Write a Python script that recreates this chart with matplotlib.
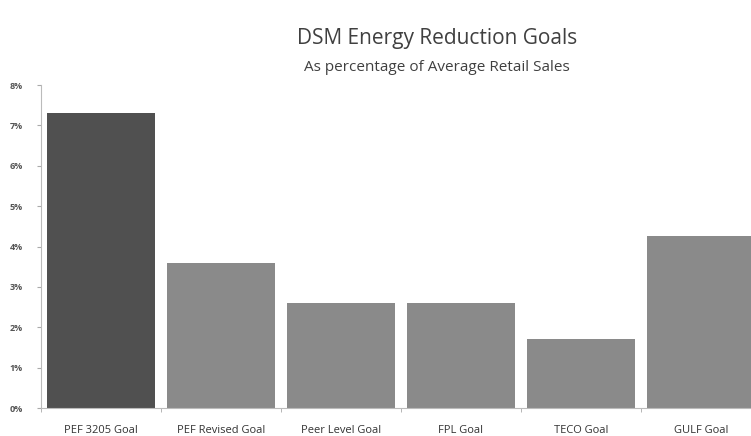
import matplotlib.pyplot as plt
from matplotlib.ticker import FixedLocator

plt.rcParams['font.family'] = ['Open Sans', 'DejaVu Sans']

goals = ["PEF 3205 Goal", "PEF Revised Goal", "Peer Level Goal",
         "FPL Goal", "TECO Goal", "GULF Goal"]
pct = [7.3, 3.6, 2.6, 2.6, 1.7, 4.25]
colors = ["#505050", "#8a8a8a", "#8a8a8a", "#8a8a8a", "#8a8a8a", "#8a8a8a"]
yticks = [0, 1, 2, 3, 4, 5, 6, 7, 8]

fig = plt.figure(figsize=(7.51, 4.36), dpi=100)
ax = fig.add_axes([0.0546, 0.0642, 0.9587, 0.7408])

x = range(len(goals))
ax.bar(x, pct, width=0.9, color=colors)

ax.set_xlim(-0.5, len(goals) - 0.5)
ax.set_ylim(0, 8)
ax.set_yticks(yticks)
ax.set_yticklabels([f"{v}%" for v in yticks], fontsize=6.5, color="#555555", fontweight="bold")
ax.set_xticks(list(x))
ax.set_xticklabels(goals, fontsize=8, color="#333333")
ax.tick_params(axis="x", length=0, pad=12)
ax.tick_params(axis="y", length=3, color="#aaaaaa", pad=10)
ax.xaxis.set_minor_locator(FixedLocator([i + 0.5 for i in range(-1, len(goals))]))
ax.tick_params(axis="x", which="minor", length=3, color="#aaaaaa")

for s in ["top", "right"]:
    ax.spines[s].set_visible(False)
ax.spines["left"].set_color("#bbbbbb")
ax.spines["bottom"].set_color("#bbbbbb")
ax.spines["left"].set_linewidth(0.8)
ax.spines["bottom"].set_linewidth(0.8)

fig.text(0.582, 0.912, "DSM Energy Reduction Goals", ha="center", va="center",
         fontsize=15, color="#404040")
fig.text(0.582, 0.845, "As percentage of Average Retail Sales", ha="center", va="center",
         fontsize=11, color="#404040")

fig.savefig("out.png", dpi=100)
